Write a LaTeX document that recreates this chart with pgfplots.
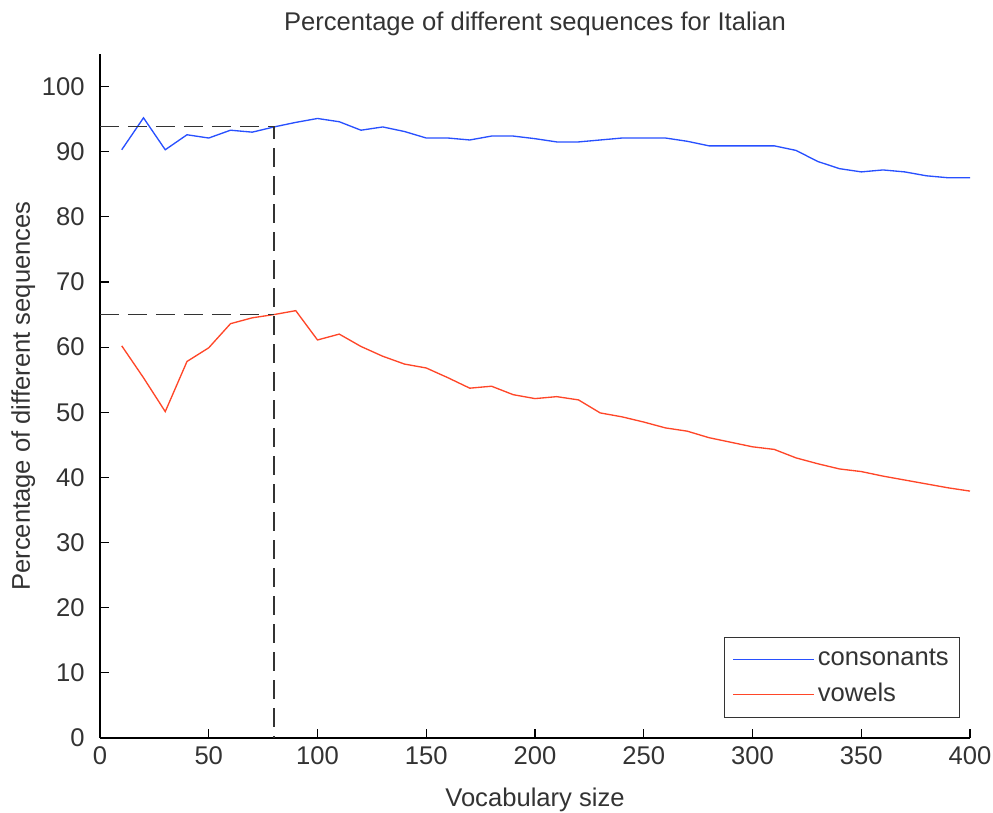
\documentclass[border=0pt]{standalone}
\usepackage{pgfplots}
\pgfplotsset{compat=1.18}
\usepackage{fontspec}
\setmainfont{Liberation Sans}
\definecolor{cblue}{RGB}{40,80,255}
\definecolor{cred}{RGB}{255,70,40}
\begin{document}
\fontsize{19.2}{23}\selectfont
\begin{tikzpicture}[x=1pt,y=1pt]
\useasboundingbox (-75,-56.25) rectangle (669.75,553.5);
\begin{axis}[
  scale only axis,
  width=652.5pt, height=513pt,
  at={(0,0)}, anchor=south west,
  xmin=0, xmax=400, ymin=0, ymax=105,
  axis lines*=left,
  axis line style={black, line width=0.9pt},
  tick align=inside,
  major tick length=7pt,
  tick style={black, line width=0.9pt},
  xtick={0,50,...,400},
  ytick={0,10,...,100},
  /pgf/number format/assume math mode=true,
  tick label style={font=\fontsize{19.2}{23}\selectfont, text=black!80},
  yticklabel style={xshift=-5pt},
  label style={font=\fontsize{19.2}{23}\selectfont, text=black!80},
  title style={font=\fontsize{19.2}{23}\selectfont, text=black!80, yshift=1pt},
  title={Percentage of different sequences for Italian},
  xlabel={Vocabulary size},
  ylabel={Percentage of different sequences},
  xlabel style={yshift=-4pt},
  ylabel style={yshift=-8pt},
  legend style={at={(0.9885,0.029)}, anchor=south east, draw=black!80, line width=0.9pt,
    font=\fontsize{19.2}{23}\selectfont, text=black!80, inner xsep=6pt, inner ysep=7pt,
    row sep=6pt},
  legend cell align=left,
  legend image code/.code={\draw[#1] plot coordinates {(0pt,0pt) (61pt,0pt)};},
  clip=false,
]
\addplot[color=cblue, line width=1pt] coordinates {
(10,90.3) (20,95.2) (30,90.3) (40,92.6) (50,92.1) (60,93.3) (70,93.0) (80,93.8)
(90,94.5) (100,95.1) (110,94.6) (120,93.3) (130,93.8) (140,93.1) (150,92.1)
(160,92.1) (170,91.8) (180,92.4) (190,92.4) (200,92.0) (210,91.5) (220,91.5)
(230,91.8) (240,92.1) (250,92.1) (260,92.1) (270,91.6) (280,90.9) (290,90.9)
(300,90.9) (310,90.9) (320,90.2) (330,88.5) (340,87.4) (350,86.9) (360,87.2)
(370,86.9) (380,86.3) (390,86.0) (400,86.0)};
\addlegendentry{consonants}
\addplot[color=cred, line width=1pt] coordinates {
(10,60.2) (20,55.3) (30,50.1) (40,57.8) (50,59.9) (60,63.6) (70,64.5) (80,65.0)
(90,65.6) (100,61.1) (110,62.0) (120,60.1) (130,58.6) (140,57.4) (150,56.8)
(160,55.3) (170,53.7) (180,54.0) (190,52.7) (200,52.1) (210,52.4) (220,51.9)
(230,49.9) (240,49.3) (250,48.5) (260,47.6) (270,47.1) (280,46.1) (290,45.4)
(300,44.7) (310,44.3) (320,43.0) (330,42.1) (340,41.3) (350,40.9) (360,40.2)
(370,39.6) (380,39.0) (390,38.4) (400,37.9)};
\addlegendentry{vowels}
\addplot[black!80, line width=1pt, dash pattern=on 14pt off 7pt, forget plot] coordinates {(0,93.9) (80,93.9) (80,0)};
\addplot[black!80, line width=1pt, dash pattern=on 14pt off 7pt, forget plot] coordinates {(0,65.0) (80,65.0)};
\end{axis}
\end{tikzpicture}
\end{document}
